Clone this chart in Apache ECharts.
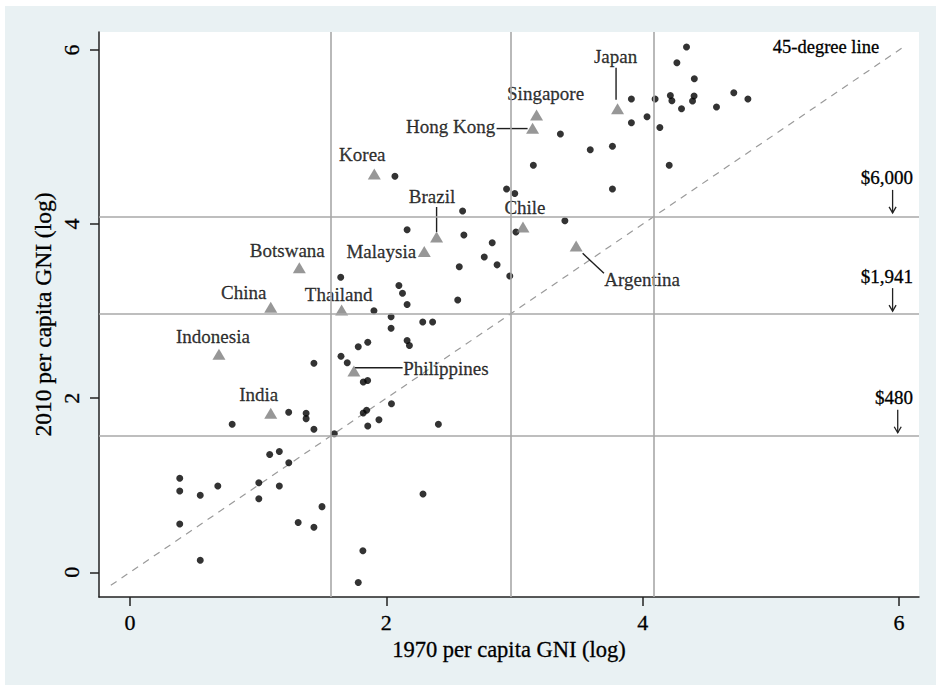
<!DOCTYPE html>
<html>
<head>
<meta charset="utf-8">
<script src="https://cdn.jsdelivr.net/npm/echarts@6/dist/echarts.min.js"></script>
<style>
html,body{margin:0;padding:0;background:#fff;}
#wrap{position:relative;width:936px;height:685px;}
#bg{position:absolute;left:5px;top:6px;width:931px;height:679px;background:#e9f1f3;}
#c{position:absolute;left:0;top:0;width:936px;height:685px;}
</style>
</head>
<body>
<div id="wrap"><div id="bg"></div><div id="c"></div></div>
<script>
// ---------- data ----------
const otherGNI1970 = [4.342,4.267,4.403,3.912,4.097,4.216,4.228,4.401,4.389,4.711,4.821,4.303,4.576,4.034,3.912,4.134,3.358,3.591,3.764,3.147,4.207,3.764,2.067,2.938,3.002,2.595,3.393,2.162,2.605,3.011,2.826,2.764,2.864,2.569,2.963,1.644,2.098,2.126,2.162,2.557,1.903,2.037,2.037,2.284,2.361,2.162,2.180,1.855,1.781,1.646,1.695,1.435,1.820,1.854,2.040,1.238,1.374,1.374,0.797,1.435,1.820,1.846,1.942,1.855,2.406,1.594,1.090,1.165,1.239,0.388,0.388,0.548,0.685,1.005,1.165,1.005,0.388,1.312,1.435,1.498,2.286,0.548,1.817,1.781];
const otherGNI2010 = [6.034,5.854,5.670,5.437,5.437,5.477,5.418,5.472,5.414,5.509,5.437,5.326,5.345,5.234,5.164,5.110,5.035,4.855,4.895,4.677,4.676,4.403,4.549,4.403,4.352,4.151,4.039,3.936,3.875,3.909,3.786,3.622,3.532,3.511,3.404,3.389,3.295,3.205,3.076,3.128,3.005,2.935,2.803,2.875,2.875,2.663,2.605,2.642,2.590,2.481,2.408,2.401,2.186,2.203,1.936,1.839,1.827,1.765,1.701,1.643,1.830,1.861,1.752,1.681,1.701,1.592,1.353,1.388,1.259,1.081,0.934,0.885,0.991,1.028,0.991,0.844,0.555,0.572,0.518,0.754,0.900,0.138,0.247,-0.117];

const countries = ['Japan','Singapore','Hong Kong','Korea','Brazil','Chile','Malaysia','Argentina','Botswana','China','Thailand','Indonesia','India','Philippines'];
const countryGNI1970 = [3.804,3.172,3.141,1.906,2.392,3.066,2.296,3.481,1.321,1.098,1.651,0.694,1.098,1.747];
const countryGNI2010 = [5.326,5.253,5.101,4.576,3.852,3.967,3.686,3.748,3.499,3.044,3.013,2.504,1.827,2.312];

const thresholdIncome = [480, 1941, 6000];
const thresholdLabels = ['$480', '$1,941', '$6,000'];
const xTicks = [0, 2, 4, 6];
const yTicks = [0, 2, 4, 6];
const diagonalRange = [-0.15, 6.02];

// ---------- layout / style (not data) ----------
const FONT = '"Liberation Serif","Times New Roman",serif';
const TXT = '#000';
const labelLayout = {
  'Japan':      {offset:[-2,-52],   line:[[-1.5,-41],[-1.5,-9]]},
  'Singapore':  {offset:[9,-22]},
  'Hong Kong':  {offset:[-82,-2],   line:[[-36,0.3],[-5,0.3]]},
  'Korea':      {offset:[-12,-19]},
  'Brazil':     {offset:[-4.5,-40], line:[[0,-30],[0,-5]]},
  'Chile':      {offset:[2,-19]},
  'Malaysia':   {offset:[-43,0]},
  'Argentina':  {offset:[66,33.5],  line:[[6.5,7.3],[27.8,27.3]]},
  'Botswana':   {offset:[-12,-17]},
  'China':      {offset:[-27,-15]},
  'Thailand':   {offset:[-3,-15.5]},
  'Indonesia':  {offset:[-6,-17.5]},
  'India':      {offset:[-12,-18.3]},
  'Philippines':{offset:[92,-2.5],  line:[[1,-3.3],[48.7,-3.3]]}
};
const textBold = {textBorderColor:'#000', textBorderWidth:0.3};

const thresholdLog = thresholdIncome.map(v => Math.log(v / 100));

const chart = echarts.init(document.getElementById('c'), null, {renderer:'svg'});

const option = {
  animation: false,
  backgroundColor: 'transparent',
  grid: {show:true, backgroundColor:'#fff', borderWidth:0, left:99, top:32, width:820, height:565},
  xAxis: {
    type:'value', min:-0.242, max:6.156,
    splitLine:{show:false},
    axisLine:{show:true, onZero:false, lineStyle:{color:'#222', width:1.5}},
    axisTick:{show:true, length:9, customValues:xTicks, lineStyle:{color:'#222', width:1.5}},
    axisLabel:Object.assign({customValues:xTicks, fontSize:22, fontFamily:FONT, color:TXT, margin:14}, textBold),
    name:'1970 per capita GNI (log)', nameLocation:'middle', nameGap:39,
    nameTextStyle:Object.assign({fontSize:22.5, fontFamily:FONT, color:TXT}, textBold)
  },
  yAxis: {
    type:'value', min:-0.284, max:6.207,
    splitLine:{show:false},
    axisLine:{show:true, onZero:false, lineStyle:{color:'#222', width:1.5}},
    axisTick:{show:true, length:9, customValues:yTicks, lineStyle:{color:'#222', width:1.5}},
    axisLabel:{show:false},
    name:'2010 per capita GNI (log)', nameLocation:'middle', nameGap:44, nameRotate:90,
    nameTextStyle:Object.assign({fontSize:23.5, fontFamily:FONT, color:TXT}, textBold)
  },
  series: [
    {
      type:'line', z:1, silent:true, symbol:'none',
      data: diagonalRange.map(v => [v, v]),
      lineStyle:{color:'#9a9a9a', width:1.2, type:[7,6]},
      markLine:{
        silent:true, symbol:['none','none'], label:{show:false},
        lineStyle:{color:'#a8a8a8', width:1.6, type:'solid'},
        data: thresholdLog.map(v => ({xAxis:v})).concat(thresholdLog.map(v => ({yAxis:v})))
      }
    },
    {
      type:'scatter', z:3, silent:true, symbol:'circle', symbolSize:7,
      itemStyle:{color:'#000'},
      data: otherGNI1970.map((x, i) => [x, otherGNI2010[i]])
    },
    {
      type:'scatter', z:4, silent:true, symbol:'triangle', symbolSize:[13,11],
      itemStyle:{color:'#7d7d7d'},
      data: countries.map((n, i) => ({
        name:n, value:[countryGNI1970[i], countryGNI2010[i]],
        label:Object.assign({show:true, position:'inside', formatter:n, offset:labelLayout[n].offset,
               fontSize:19, fontFamily:FONT, color:TXT, align:'center', verticalAlign:'middle'}, textBold)
      }))
    }
  ]
};
chart.setOption(option);

// ---------- annotations placed through the axes ----------
const px = (x, y) => chart.convertToPixel({gridIndex:0}, [x, y]);
const g = [];
// rotated y tick labels (Stata style)
yTicks.forEach(v => {
  const p = px(0, v);
  g.push({type:'text', z:5, silent:true, x:71, y:p[1], rotation:Math.PI/2,
    style:{text:String(v), x:0, y:0, align:'center', verticalAlign:'middle', fontSize:22, fontFamily:FONT, fill:TXT, stroke:'#000', lineWidth:0.3}});
});
countries.forEach((n, i) => {
  const L = labelLayout[n].line;
  if (!L) return;
  const p = px(countryGNI1970[i], countryGNI2010[i]);
  g.push({type:'line', z:2, silent:true,
    shape:{x1:p[0]+L[0][0], y1:p[1]+L[0][1], x2:p[0]+L[1][0], y2:p[1]+L[1][1]},
    style:{stroke:'#1e1e1e', lineWidth:1.4}});
});
const arrowX = [5.99, 5.95, 5.95];
thresholdLog.forEach((v, i) => {
  const p = px(arrowX[i], v);
  const x = p[0], y = p[1];
  g.push({type:'line', z:5, silent:true, shape:{x1:x, y1:y-26, x2:x, y2:y-3}, style:{stroke:'#222', lineWidth:1.3}});
  g.push({type:'polyline', z:5, silent:true, shape:{points:[[x-3.5,y-9],[x,y-3],[x+3.5,y-9]]}, style:{stroke:'#222', lineWidth:1.3, fill:null}});
  g.push({type:'text', z:5, silent:true, style:{text:thresholdLabels[i], x:913, y:y-38, align:'right', verticalAlign:'middle', fontSize:19, fontFamily:FONT, fill:TXT, stroke:'#000', lineWidth:0.3}});
});
const dp = px(5.43, 6.03);
g.push({type:'text', z:5, silent:true, style:{text:'45-degree line', x:dp[0], y:dp[1], align:'center', verticalAlign:'middle', fontSize:18.5, fontFamily:FONT, fill:TXT, stroke:'#000', lineWidth:0.3}});
chart.setOption({graphic: g});
</script>
</body>
</html>
